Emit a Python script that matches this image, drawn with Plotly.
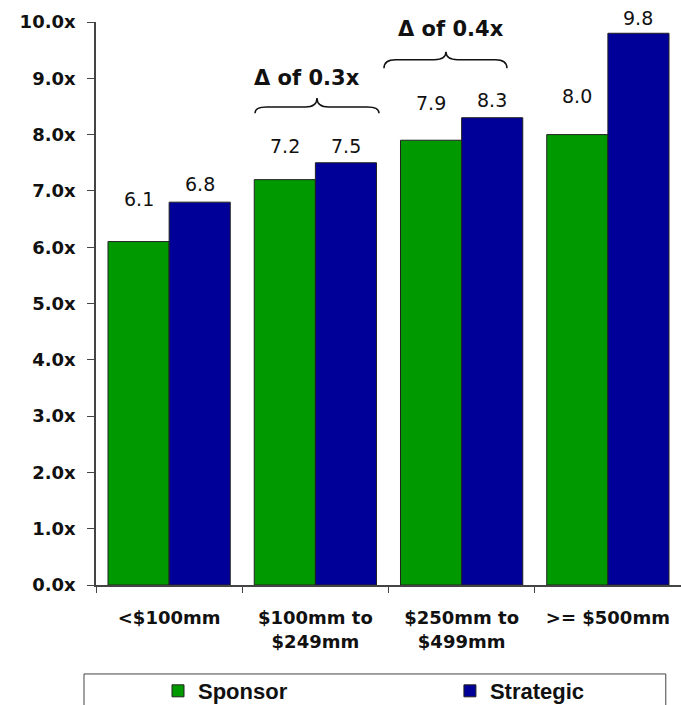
import plotly.graph_objects as go

categories = ["<$100mm", "$100mm to<br>$249mm", "$250mm to<br>$499mm", ">= $500mm"]
sponsor = [6.1, 7.2, 7.9, 8.0]
strategic = [6.8, 7.5, 8.3, 9.8]
y_ticks = [0, 1, 2, 3, 4, 5, 6, 7, 8, 9, 10]
y_tick_text = [f"{v:.1f}x" for v in y_ticks]
delta_labels = ["\u0394 of 0.3x", "\u0394 of 0.4x"]

# label offsets above bar tops (px) - style only
sponsor_label_shift = [43, 34, 37, 39]
strategic_label_shift = [18, 17, 18, 15]

GREEN = "#009900"
BLUE = "#000099"
AX = "#444444"
TXT = "#111111"
BARGAP = 0.164
half = (1 - BARGAP) / 4

fig = go.Figure()
fig.add_trace(go.Bar(name="<b>Sponsor</b>", x=categories, y=sponsor, legend="legend",
                     marker=dict(color=GREEN, line=dict(color="#222222", width=1))))
fig.add_trace(go.Bar(name="<b>Strategic</b>", x=categories, y=strategic, legend="legend2",
                     marker=dict(color=BLUE, line=dict(color="#222222", width=1))))

ann = []
for i, (s, t) in enumerate(zip(sponsor, strategic)):
    ann.append(dict(x=i - half, y=s, xref="x", yref="y", text=f"{s:.1f}", showarrow=False,
                    yanchor="middle", yshift=sponsor_label_shift[i],
                    font=dict(family="DejaVu Sans", size=19, color=TXT)))
    ann.append(dict(x=i + half, y=t, xref="x", yref="y", text=f"{t:.1f}", showarrow=False,
                    yanchor="middle", yshift=strategic_label_shift[i],
                    font=dict(family="DejaVu Sans", size=19, color=TXT)))

brace_specs = [
    dict(x0=0.587, x1=1.435, xc=1.011, yend=8.38, yh=8.49, ypk=8.65, tx=0.94, ty=9.0, text=delta_labels[0]),
    dict(x0=1.469, x1=2.310, xc=1.893, yend=9.18, yh=9.33, ypk=9.47, tx=1.93, ty=9.87, text=delta_labels[1]),
]
shapes = []
for b in brace_specs:
    dx = 0.08
    p = (f"M {b['x0']},{b['yend']} Q {b['x0']},{b['yh']} {b['x0']+dx},{b['yh']} "
         f"L {b['xc']-dx},{b['yh']} Q {b['xc']},{b['yh']} {b['xc']},{b['ypk']} "
         f"Q {b['xc']},{b['yh']} {b['xc']+dx},{b['yh']} "
         f"L {b['x1']-dx},{b['yh']} Q {b['x1']},{b['yh']} {b['x1']},{b['yend']}")
    shapes.append(dict(type="path", path=p, xref="x", yref="y", line=dict(color=TXT, width=1.5)))
    ann.append(dict(x=b["tx"], y=b["ty"], xref="x", yref="y", text=f"<b>{b['text']}</b>", showarrow=False,
                    font=dict(family="DejaVu Sans", size=21, color=TXT)))

# legend box
shapes.append(dict(type="rect", xref="paper", yref="paper", x0=-0.0205, x1=0.974, y0=-0.158, y1=-0.235,
                   line=dict(color="#444444", width=1), fillcolor="rgba(0,0,0,0)"))

leg_common = dict(orientation="h", xanchor="left", y=-0.1883, yanchor="middle",
                  bgcolor="rgba(0,0,0,0)", borderwidth=0, itemwidth=30,
                  font=dict(family="Liberation Sans", size=22, color=TXT))

fig.update_layout(
    width=681, height=705,
    margin=dict(l=96, r=0, t=22, b=120, autoexpand=False),
    barmode="group", bargap=BARGAP, bargroupgap=0,
    plot_bgcolor="white", paper_bgcolor="white",
    showlegend=True,
    legend=dict(x=0.106, **leg_common),
    legend2=dict(x=0.605, **leg_common),
    annotations=ann,
    shapes=shapes,
    xaxis=dict(showline=True, linecolor=AX, linewidth=1.5, ticks="outside", tickson="boundaries",
               ticklen=6, tickcolor=AX, showgrid=False, ticklabelstandoff=16, automargin=False,
               tickvals=categories, ticktext=[f"<b>{c}</b>" for c in categories],
               tickfont=dict(family="DejaVu Sans", size=18, color=TXT)),
    yaxis=dict(range=[0, 10], tickvals=y_ticks, ticktext=[f"<b>{t}</b>" for t in y_tick_text],
               showline=True, linecolor=AX, automargin=False,
               linewidth=1.5, ticks="outside", ticklen=7, tickcolor=AX, showgrid=False, zeroline=False,
               ticklabelstandoff=8, tickfont=dict(family="DejaVu Sans", size=18, color=TXT)),
)
fig.write_html("out.html")
